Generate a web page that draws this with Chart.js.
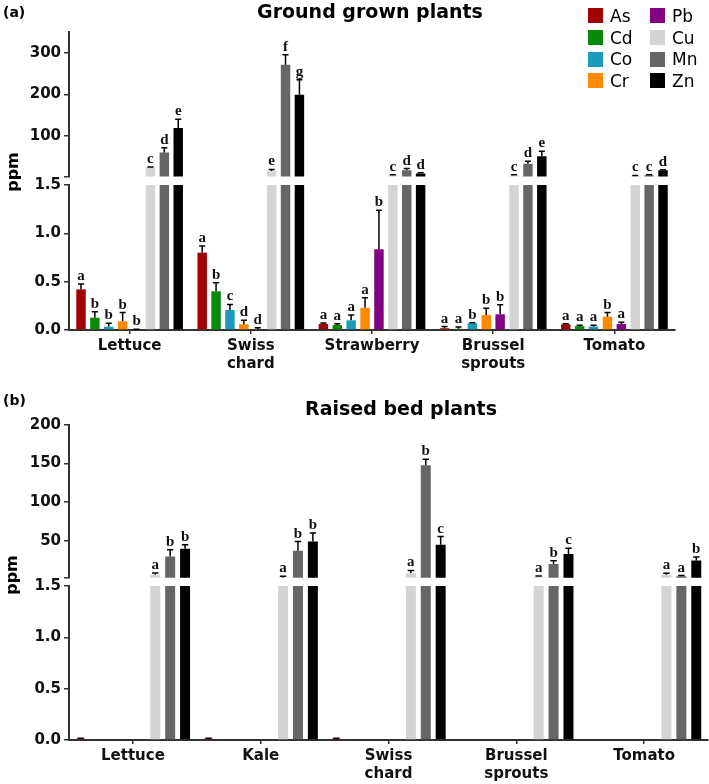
<!DOCTYPE html>
<html>
<head>
<meta charset="utf-8">
<script src="https://cdn.jsdelivr.net/npm/chart.js@4"></script>
<style>
  html, body { margin: 0; padding: 0; background: #fff; }
  #page { position: relative; width: 709px; height: 784px; overflow: hidden; font-family: "DejaVu Sans", sans-serif; color: #000; }
  .seg { position: absolute; left: 0; width: 709px; }
  .tag { position: absolute; left: 3px; font-weight: bold; font-size: 14px; line-height: 16px; }
  .title { position: absolute; font-weight: bold; font-size: 19px; line-height: 22px; transform: translateX(-50%); white-space: nowrap; }
  .ylab { position: absolute; font-weight: bold; font-size: 16px; line-height: 16px; transform: translate(-50%, -50%) rotate(-90deg); }
  #legend { position: absolute; left: 588px; top: 5px; display: grid; grid-auto-flow: column; grid-template-rows: repeat(4, 21.7px); grid-template-columns: 62px 62px; font-size: 17px; }
  .item { display: flex; align-items: center; }
  .sw { width: 15px; height: 15px; margin-right: 7px; flex: none; }
</style>
</head>
<body>
<div id="page">
  <div class="seg" style="top:0;height:190px"><canvas id="groundTop"></canvas></div>
  <div class="seg" style="top:170px;height:210px"><canvas id="groundLow"></canvas></div>
  <div class="seg" style="top:390px;height:200px"><canvas id="raisedTop"></canvas></div>
  <div class="seg" style="top:571px;height:213px"><canvas id="raisedLow"></canvas></div>

  <div class="tag" style="top:4px">(a)</div>
  <div class="title" style="left:370px;top:0px">Ground grown plants</div>
  <div class="ylab" style="left:13px;top:172px">ppm</div>
  <div id="legend"></div>

  <div class="tag" style="top:392px">(b)</div>
  <div class="title" style="left:401px;top:397px">Raised bed plants</div>
  <div class="ylab" style="left:12px;top:575px">ppm</div>
</div>

<script>
const metals = ['As', 'Cd', 'Co', 'Cr', 'Pb', 'Cu', 'Mn', 'Zn'];
const metalColors = ['#a10303', '#078a07', '#1a9bba', '#ff8a00', '#820082', '#d4d4d4', '#666666', '#000000'];

// (a) ground grown plants, mean ppm
const groundPlants = [['Lettuce'], ['Swiss', 'chard'], ['Strawberry'], ['Brussel', 'sprouts'], ['Tomato']];
const groundAs = [0.42, 0.80, 0.062, 0.018, 0.059];
const groundCd = [0.127, 0.40, 0.052, 0.012, 0.04];
const groundCo = [0.035, 0.207, 0.10, 0.07, 0.035];
const groundCr = [0.09, 0.059, 0.23, 0.155, 0.138];
const groundPb = [0.004, 0.01, 0.835, 0.162, 0.062];
const groundCu = [24, 15, 5, 5, 4];
const groundMn = [60, 271, 17, 33, 5];
const groundZn = [119, 199, 9, 51, 17];
// upper whisker (SE)
const groundAsErr = [0.056, 0.07, 0.01, 0.017, 0.006];
const groundCdErr = [0.063, 0.09, 0.013, 0.018, 0.01];
const groundCoErr = [0.035, 0.058, 0.055, 0.005, 0.015];
const groundCrErr = [0.09, 0.041, 0.104, 0.069, 0.042];
const groundPbErr = [0.004, 0.014, 0.405, 0.098, 0.018];
const groundCuErr = [1, 4, 1, 1.5, 0.5];
const groundMnErr = [11, 24, 4, 5.5, 1];
const groundZnErr = [21, 36, 2, 12, 1.5];
// significance letters
const groundAsTxt = ['a', 'a', 'a', 'a', 'a'];
const groundCdTxt = ['b', 'b', 'a', 'a', 'a'];
const groundCoTxt = ['b', 'c', 'a', 'b', 'a'];
const groundCrTxt = ['b', 'd', 'a', 'b', 'b'];
const groundPbTxt = ['b', 'd', 'b', 'b', 'a'];
const groundCuTxt = ['c', 'e', 'c', 'c', 'c'];
const groundMnTxt = ['d', 'f', 'd', 'd', 'c'];
const groundZnTxt = ['e', 'g', 'd', 'e', 'd'];

// (b) raised bed plants
const raisedPlants = [['Lettuce'], ['Kale'], ['Swiss', 'chard'], ['Brussel', 'sprouts'], ['Tomato']];
const raisedAs = [0.012, 0.012, 0.012, 0, 0];
const raisedCd = [0, 0, 0, 0, 0];
const raisedCo = [0, 0, 0, 0, 0];
const raisedCr = [0, 0, 0, 0, 0];
const raisedPb = [0, 0, 0, 0, 0];
const raisedCu = [6, 2.5, 8.3, 3.5, 6];
const raisedMn = [29.7, 37, 148, 20, 4];
const raisedZn = [39.7, 49, 45, 33, 24.5];
const raisedAsErr = [0.004, 0.004, 0.004, 0, 0];
const raisedCuErr = [2.3, 1.5, 3.3, 1, 2];
const raisedMnErr = [8.7, 12, 7.5, 4, 1];
const raisedZnErr = [5.3, 11, 10.5, 7.5, 4.5];
const raisedCuTxt = ['a', 'a', 'a', 'a', 'a'];
const raisedMnTxt = ['b', 'b', 'b', 'b', 'a'];
const raisedZnTxt = ['b', 'b', 'c', 'c', 'b'];

const none = ['', '', '', '', ''];
const zero = [0, 0, 0, 0, 0];

const groundSeries = [
    [groundAs, groundAsErr, groundAsTxt],
    [groundCd, groundCdErr, groundCdTxt],
    [groundCo, groundCoErr, groundCoTxt],
    [groundCr, groundCrErr, groundCrTxt],
    [groundPb, groundPbErr, groundPbTxt],
    [groundCu, groundCuErr, groundCuTxt],
    [groundMn, groundMnErr, groundMnTxt],
    [groundZn, groundZnErr, groundZnTxt]
];
const raisedSeries = [
    [raisedAs, raisedAsErr, none],
    [raisedCd, zero, none],
    [raisedCo, zero, none],
    [raisedCr, zero, none],
    [raisedPb, zero, none],
    [raisedCu, raisedCuErr, raisedCuTxt],
    [raisedMn, raisedMnErr, raisedMnTxt],
    [raisedZn, raisedZnErr, raisedZnTxt]
];

const axisColor = '#333333';
const tickFont = { family: 'DejaVu Sans', weight: 'bold', size: 15, lineHeight: 1.22 };

// whiskers + letters, only for bars whose value lies in this segment
const errorBarPlugin = {
    id: 'errorBars',
    afterDatasetsDraw(chart) {
        const ctx = chart.ctx;
        const y = chart.scales.y;
        ctx.save();
        chart.data.datasets.forEach((ds, i) => {
            const meta = chart.getDatasetMeta(i);
            meta.data.forEach((bar, j) => {
                const v = ds.data[j];
                const e = ds.errors[j];
                if (v < y.min || v > y.max) return;
                if (!e && !ds.letters[j]) return;
                const top = y.getPixelForValue(v + e);
                if (e > 0) {
                    const w = bar.width * 0.32;
                    ctx.strokeStyle = '#000';
                    ctx.lineWidth = 1.5;
                    ctx.beginPath();
                    ctx.moveTo(bar.x, bar.y);
                    ctx.lineTo(bar.x, top);
                    ctx.moveTo(bar.x - w, top);
                    ctx.lineTo(bar.x + w, top);
                    ctx.stroke();
                }
                if (ds.letters[j]) {
                    ctx.fillStyle = '#111';
                    ctx.font = 'bold 15px "Liberation Serif", serif';
                    ctx.textAlign = 'center';
                    ctx.textBaseline = 'alphabetic';
                    ctx.fillText(ds.letters[j], bar.x, top - 4);
                }
            });
        });
        ctx.restore();
    }
};

function segmentChart(canvasId, plants, series, seg) {
    return new Chart(document.getElementById(canvasId), {
        type: 'bar',
        data: {
            labels: plants,
            datasets: metals.map((m, k) => ({
                label: m,
                data: series[k][0],
                errors: series[k][1],
                letters: series[k][2],
                backgroundColor: metalColors[k],
                borderWidth: 0,
                clip: 0,
                categoryPercentage: seg.catPct,
                barPercentage: seg.barPct
            }))
        },
        options: {
            responsive: true,
            maintainAspectRatio: false,
            animation: false,
            layout: { padding: seg.padding },
            plugins: {
                legend: { display: false },
                tooltip: { enabled: false }
            },
            scales: {
                x: seg.showX ? {
                    afterFit: (s) => { s.height = seg.xHeight; },
                    grid: { drawOnChartArea: false, offset: false, tickLength: 4, color: axisColor, lineWidth: 1.5 },
                    border: { color: axisColor, width: 2 },
                    ticks: { padding: 3, color: '#111', font: tickFont, maxRotation: 0, autoSkip: false }
                } : { display: false },
                y: {
                    min: seg.min,
                    max: seg.max,
                    afterBuildTicks: (s) => { s.ticks = seg.ticks.map(v => ({ value: v })); },
                    afterFit: (s) => { s.width = 69; },
                    grid: { drawOnChartArea: false, tickLength: 5, color: axisColor, lineWidth: 1.5 },
                    border: { color: axisColor, width: 2 },
                    ticks: { padding: 3, color: '#111', font: tickFont, autoSkip: false, callback: seg.fmt }
                }
            }
        },
        plugins: [errorBarPlugin]
    });
}

const lowFmt = (v) => v.toFixed(1);
const highFmt = (v) => (v < 10 ? '' : String(v));

segmentChart('groundTop', groundPlants, groundSeries, {
    min: 2, max: 350, ticks: [2, 100, 200, 300], fmt: highFmt,
    padding: { left: 0, right: 34, top: 32, bottom: 13.5 },
    catPct: 0.917, barPct: 0.68, showX: false
});
segmentChart('groundLow', groundPlants, groundSeries, {
    min: 0, max: 1.5, ticks: [0, 0.5, 1, 1.5], fmt: lowFmt,
    padding: { left: 0, right: 34, top: 15, bottom: 0 },
    catPct: 0.917, barPct: 0.68, showX: true, xHeight: 50
});
segmentChart('raisedTop', raisedPlants, raisedSeries, {
    min: 2, max: 200, ticks: [2, 50, 100, 150, 200], fmt: highFmt,
    padding: { left: 0, right: 1, top: 35, bottom: 11.7 },
    catPct: 0.933, barPct: 0.67, showX: false
});
segmentChart('raisedLow', raisedPlants, raisedSeries, {
    min: 0, max: 1.5, ticks: [0, 0.5, 1, 1.5], fmt: lowFmt,
    padding: { left: 0, right: 1, top: 15, bottom: 0 },
    catPct: 0.933, barPct: 0.67, showX: true, xHeight: 44
});

// legend, two columns filled top to bottom
const legend = document.getElementById('legend');
metals.forEach((m, k) => {
    const item = document.createElement('div');
    item.className = 'item';
    item.innerHTML = `<span class="sw" style="background:${metalColors[k]}"></span><span>${m}</span>`;
    legend.appendChild(item);
});
</script>
</body>
</html>
